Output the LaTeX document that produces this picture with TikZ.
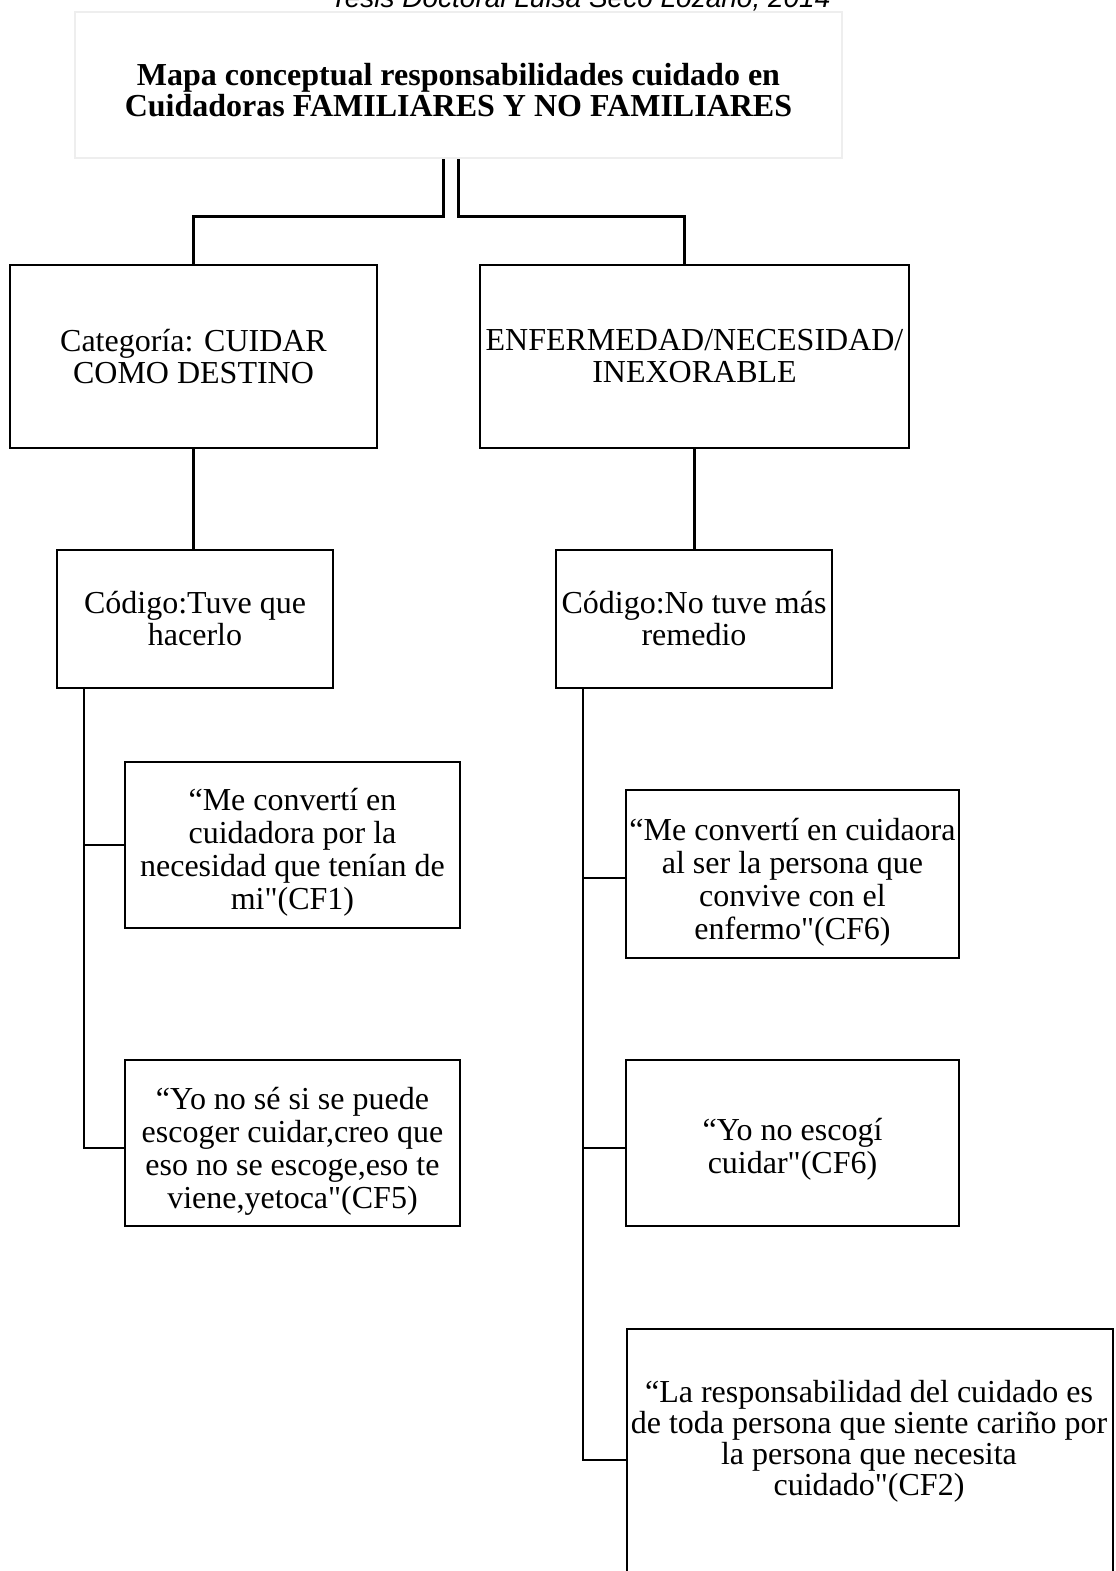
\documentclass[tikz,border=0pt]{standalone}
\usepackage{fontspec}
\setmainfont{Liberation Serif}[Ligatures=TeXOff]
\newfontfamily\headfont{Liberation Sans}[Ligatures=TeXOff]
\usetikzlibrary{calc}
\newlength\pxlen
\setlength\pxlen{0.75pt}
\begin{document}
\begin{tikzpicture}[x=0.75pt,y=-0.75pt,
  wire/.style={line width=1.8pt, line join=miter},
  box/.style={draw=black, line width=1.8pt, fill=white, inner sep=0pt, align=center,
    font=\fontsize{24}{24}\selectfont},
  titlebox/.style={draw={rgb,255:red,238;green,238;blue,238}, line width=2.2pt, fill=white,
    inner sep=0pt},
  plaintext/.style={inner sep=0pt, align=center, font=\fontsize{24}{24}\selectfont},
  quotetext/.style={plaintext, font=\fontsize{24}{24.75}\selectfont}]
\useasboundingbox (0,0) rectangle (1115,1571);
\fill[white] (0,0) rectangle (1115,1571);

% running header, cut by the page edge
\node[anchor=base west, inner sep=0pt, font=\headfont\itshape\fontsize{21}{21}\selectfont]
  (hdr) at (330,7) {Tesis Doctoral Luisa Seco Lozano, 2014};

% title
\node[titlebox, minimum width=767\pxlen, minimum height=146\pxlen] (top) at (458.5,85) {};
\node[plaintext, font=\bfseries\fontsize{24}{21}\selectfont] (title) at (458.5,90)
  {Mapa conceptual responsabilidades cuidado en\\Cuidadoras FAMILIARES Y NO FAMILIARES};

% categories
\node[box, minimum width=367\pxlen, minimum height=183\pxlen] (A) at (193.5,356.5)
  {Categoría: CUIDAR\\COMO DESTINO};
\node[box, minimum width=429\pxlen, minimum height=183\pxlen] (B) at (694.5,356.5)
  {ENFERMEDAD/NECESIDAD/\\INEXORABLE};

% codes
\node[box, minimum width=276\pxlen, minimum height=138\pxlen] (C) at (195,619)
  {Código:Tuve que\\hacerlo};
\node[box, minimum width=276\pxlen, minimum height=138\pxlen] (D) at (694,619)
  {Código:No tuve más\\remedio};

% quotes, left branch
\node[box, minimum width=335\pxlen, minimum height=166\pxlen] (E) at (292.5,845) {};
\node[quotetext] (Etxt) at (292.5,852)
  {“Me convertí en\\cuidadora por la\\necesidad que tenían de\\mi"(CF1)};
\node[box, minimum width=335\pxlen, minimum height=166\pxlen] (F) at (292.5,1143) {};
\node[quotetext] (Ftxt) at (292.5,1151)
  {“Yo no sé si se puede\\escoger cuidar,creo que\\eso no se escoge,eso te\\viene,yetoca"(CF5)};

% quotes, right branch
\node[box, minimum width=333\pxlen, minimum height=168\pxlen] (G) at (792.5,874) {};
\node[quotetext] (Gtxt) at (792.5,882)
  {“Me convertí en cuidaora\\al ser la persona que\\convive con el\\enfermo"(CF6)};
\node[box, minimum width=333\pxlen, minimum height=166\pxlen] (H) at (792.5,1143) {};
\node[quotetext] (Htxt) at (792.5,1149)
  {“Yo no escogí\\cuidar"(CF6)};
\node[box, anchor=north west, minimum width=486\pxlen, minimum height=300\pxlen] (I) at (626,1328) {};
\node[plaintext, font=\fontsize{24}{23.25}\selectfont] (Itxt) at (869,1441)
  {“La responsabilidad del cuidado es\\de toda persona que siente cariño por\\la persona que necesita\\cuidado"(CF2)};

% connectors from the title
\coordinate (tl) at ($(top.south)+(-15,0)$);
\coordinate (tr) at ($(top.south)+(0,0)$);
\coordinate (Ain) at (A.north);
\coordinate (Bin) at ($(B.north)+(-10,0)$);
\draw[wire] (tl) -- ++(0,57) -| (Ain);
\draw[wire] (tr) -- ++(0,57) -| (Bin);

% categories to codes
\draw[wire] (A.south) -- (A.south |- C.north);
\draw[wire] (B.south) -- (B.south |- D.north);

% left trunk
\coordinate (lt) at ($(C.south west)+(28,0)$);
\coordinate (Fin) at ($(F.west)+(0,5)$);
\draw[wire] (lt) |- (Fin);
\draw[wire] (lt |- E.west) -- (E.west);

% right trunk
\coordinate (rt) at ($(D.south west)+(28,0)$);
\coordinate (Gin) at ($(G.west)+(0,4)$);
\coordinate (Hin) at ($(H.west)+(0,5)$);
\coordinate (Iin) at ($(I.north west)+(0,132)$);
\draw[wire] (rt) |- (Iin);
\draw[wire] (rt |- Gin) -- (Gin);
\draw[wire] (rt |- Hin) -- (Hin);
\end{tikzpicture}
\end{document}
